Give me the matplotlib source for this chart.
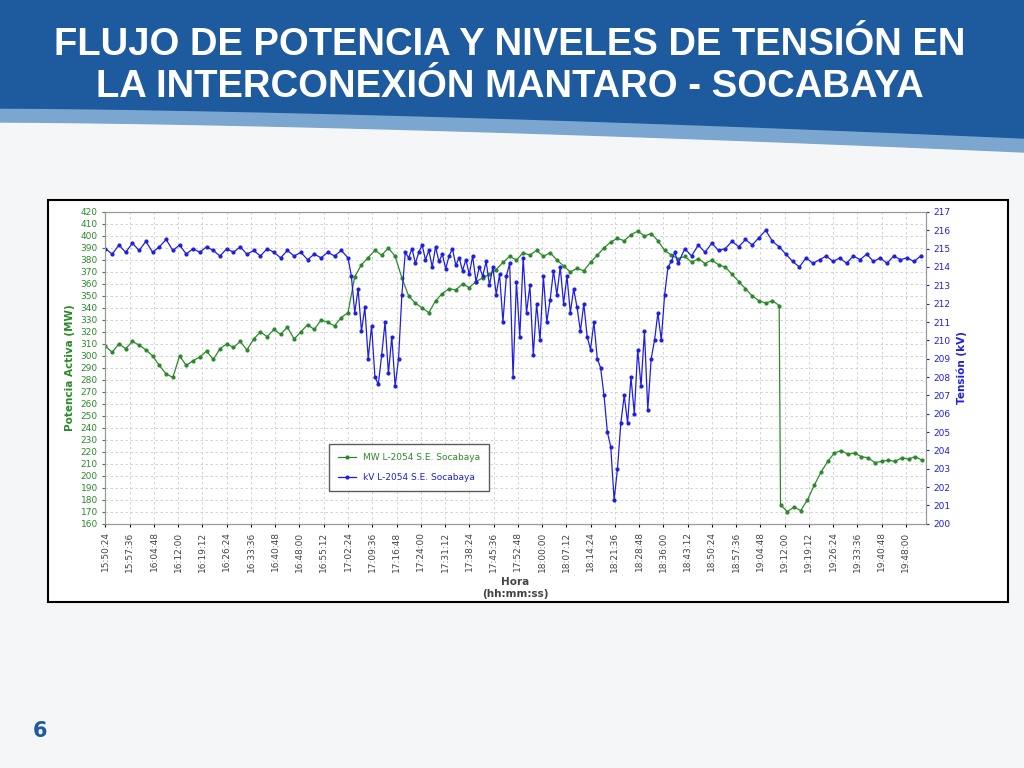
import numpy as np
import matplotlib.pyplot as plt
from matplotlib.patches import Rectangle, Polygon

# x axis: minutes after 15:50:24
tick_labels = ["15:50:24", "15:57:36", "16:04:48", "16:12:00", "16:19:12", "16:26:24",
               "16:33:36", "16:40:48", "16:48:00", "16:55:12", "17:02:24", "17:09:36",
               "17:16:48", "17:24:00", "17:31:12", "17:38:24", "17:45:36", "17:52:48",
               "18:00:00", "18:07:12", "18:14:24", "18:21:36", "18:28:48", "18:36:00",
               "18:43:12", "18:50:24", "18:57:36", "19:04:48", "19:12:00", "19:19:12",
               "19:26:24", "19:33:36", "19:40:48", "19:48:00"]

# MW L-2054 (green), sampled every 2 min, drop at ~19:10
mw_time = np.concatenate([np.arange(0, 201, 2), np.arange(200.4, 243, 2)])
mw_values = [308, 303, 310, 306, 312, 309, 305, 300, 292, 285, 282,
             300, 292, 296, 299, 304, 297, 306, 310, 307, 312, 305, 314, 320, 316, 322,
             318, 324, 314, 320, 326, 322, 330, 328, 325, 332,
             336, 366, 376, 382, 388, 384, 390, 383, 365, 350,
             344, 340, 336, 346, 352, 356, 355, 360, 357, 362,
             365, 368, 372, 378, 383, 380, 386, 384, 388, 383,
             386, 380, 375, 370, 373, 371, 378, 384, 390, 395,
             398, 396, 401, 404, 400, 402, 396, 388, 384, 381,
             383, 378, 381, 377, 380, 376, 374, 368, 362, 356,
             350, 346, 344, 346, 342,
             176, 170, 174, 171, 180, 192, 203, 212, 219, 221, 218, 219, 216, 215,
             211, 212, 213, 212, 215, 214, 216, 213]

# kV L-2054 (blue)
kv_time = np.concatenate([np.arange(0, 73, 2), np.arange(73, 171, 1), np.arange(172, 243, 2)])
kv_values = [215.0, 214.7, 215.2, 214.8, 215.3, 214.9, 215.4, 214.8, 215.1, 215.5,
             214.9, 215.2, 214.7, 215.0, 214.8, 215.1, 214.9, 214.6, 215.0, 214.8,
             215.1, 214.7, 214.9, 214.6, 215.0, 214.8, 214.5, 214.9, 214.6, 214.8,
             214.4, 214.7, 214.5, 214.8, 214.6, 214.9, 214.5,
             213.5, 211.5, 212.8, 210.5, 211.8, 209.0, 210.8, 208.0, 207.6, 209.2,
             211.0, 208.2, 210.2, 207.5, 209.0, 212.5, 214.8,
             214.5, 215.0, 214.2, 214.8, 215.2, 214.4, 214.9, 214.0, 215.1, 214.3,
             214.7, 213.9, 214.6, 215.0, 214.1, 214.5, 213.8, 214.4, 213.6, 214.6,
             213.2, 214.0, 213.5, 214.3, 213.0,
             214.0, 212.5, 213.6, 211.0, 213.5, 214.2, 208.0, 213.2, 210.2, 214.5,
             211.5, 213.0, 209.2, 212.0, 210.0, 213.5,
             211.0, 212.2, 213.8, 212.5, 214.0, 212.0, 213.5, 211.5, 212.8, 211.8,
             210.5, 212.0, 210.2, 209.5, 211.0, 209.0, 208.5, 207.0, 205.0, 204.2,
             201.3, 203.0, 205.5, 207.0, 205.5, 208.0, 206.0, 209.5, 207.5, 210.5,
             206.2, 209.0, 210.0, 211.5, 210.0, 212.5, 214.0, 214.3, 214.8, 214.2,
             215.0, 214.6, 215.2, 214.8, 215.3, 214.9, 215.0, 215.4, 215.1, 215.5,
             215.2, 215.6, 216.0, 215.4, 215.1, 214.7, 214.3, 214.0, 214.5, 214.2,
             214.4, 214.6, 214.3, 214.5, 214.2, 214.6, 214.4, 214.7, 214.3, 214.5,
             214.2, 214.6, 214.4, 214.5, 214.3, 214.6]

GREEN = "#2a8a2a"
BLUE = "#1f1fe0"

fig = plt.figure(figsize=(10.24, 7.68), dpi=100)
fig.patch.set_facecolor("#f4f6f8")

# slide header band
hdr = fig.add_axes([0, 0, 1, 1], zorder=0)
hdr.set_xlim(0, 1024)
hdr.set_ylim(768, 0)
hdr.axis("off")
xs = np.linspace(0, 1024, 60)
curve = 108 + 30 * (xs / 1024) ** 1.5
hdr.add_patch(Polygon(list(zip(xs, curve + 14)) + [(1024, 0), (0, 0)], closed=True, color="#7aa6cf"))
hdr.add_patch(Polygon(list(zip(xs, curve)) + [(1024, 0), (0, 0)], closed=True, color="#1d5a9e"))
hdr.text(510, 45, "FLUJO DE POTENCIA Y NIVELES DE TENSIÓN EN", color="white", fontsize=27.5,
         fontweight="bold", ha="center", va="center", family="Liberation Sans")
hdr.text(510, 87, "LA INTERCONEXIÓN MANTARO - SOCABAYA", color="white", fontsize=27.5,
         fontweight="bold", ha="center", va="center", family="Liberation Sans")
hdr.text(40, 731, "6", color="#1d5a9e", fontsize=15, fontweight="bold", ha="center", va="center")
hdr.add_patch(Rectangle((48, 200), 960, 402, facecolor="white", edgecolor="black", lw=1.5))

ax = fig.add_axes([0.103, 0.318, 0.801, 0.406], zorder=2)
ax2 = ax.twinx()
ax.plot(mw_time, mw_values, color=GREEN, marker="o", markersize=2, lw=0.9, label="MW L-2054 S.E. Socabaya")
ax2.plot(kv_time, kv_values, color=BLUE, marker="o", markersize=2, lw=0.9, label="kV L-2054 S.E. Socabaya")

ax.set_xlim(0, 243.5)
ax.set_xticks(np.arange(len(tick_labels)) * 7.2)
ax.set_xticklabels(tick_labels, rotation=90, fontsize=6.5, color="#444444")
ax.set_ylim(160, 420)
ax.set_yticks(np.arange(160, 421, 10))
ax.tick_params(axis="y", labelsize=6.5, colors=GREEN, length=2)
ax.tick_params(axis="x", length=2)
ax2.set_ylim(200, 217)
ax2.set_yticks(np.arange(200, 218, 1))
ax2.tick_params(axis="y", labelsize=6.5, colors=BLUE, length=2)
ax.grid(True, ls=(0, (3, 3)), color="#cccccc", lw=0.6)
for a in (ax, ax2):
    for s in a.spines.values():
        s.set_color("#999999")
ax.set_ylabel("Potencia Activa (MW)", color=GREEN, fontsize=7.5, fontweight="bold")
ax2.set_ylabel("Tensión (kV)", color=BLUE, fontsize=7.5, fontweight="bold")
ax.set_xlabel("Hora\n(hh:mm:ss)", fontsize=7.5, fontweight="bold", color="#444444")

h1, l1 = ax.get_legend_handles_labels()
h2, l2 = ax2.get_legend_handles_labels()
leg = ax2.legend(h1 + h2, l1 + l2, loc="lower left", bbox_to_anchor=(0.267, 0.09), fontsize=6.5,
                 frameon=True, fancybox=False, edgecolor="#333333", borderpad=1.0, labelspacing=1.2)
for t, c in zip(leg.get_texts(), (GREEN, BLUE)):
    t.set_color(c)

fig.savefig("out.png", dpi=100, facecolor=fig.get_facecolor())
